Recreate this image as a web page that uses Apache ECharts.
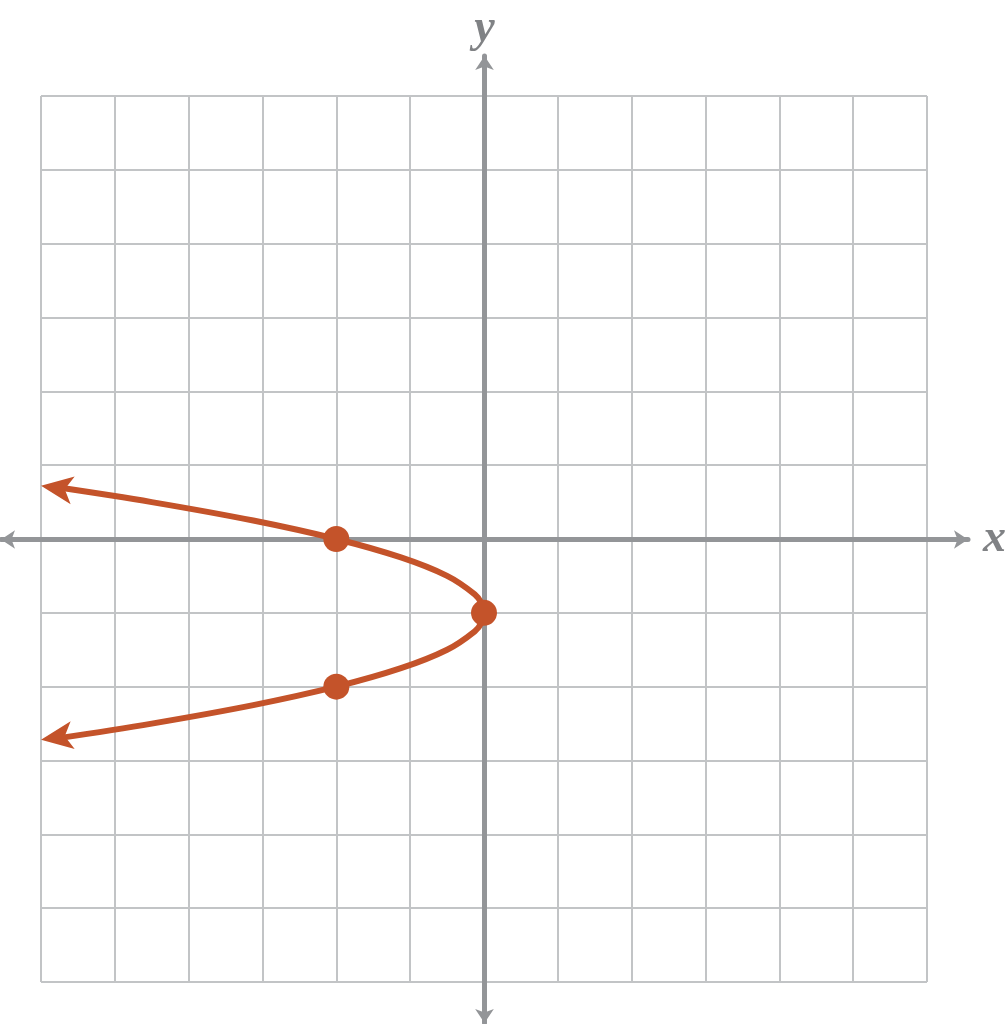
<!DOCTYPE html>
<html><head><meta charset="utf-8">
<script src="https://cdn.jsdelivr.net/npm/echarts@6/dist/echarts.min.js"></script>
<style>html,body{margin:0;padding:0;background:#fff}#c{width:1008px;height:1024px}</style>
</head><body><div id="c"></div>
<script>
// Values: parabola passing through (-2,0), (0,-1), (-2,-2)
const curveX = [-5.78, -4.5, -3.125, -2, -1.125, -0.5, -0.125, -0.03, 0, -0.03, -0.125, -0.5, -1.125, -2, -3.125, -4.5, -5.78];
const curveY = [0.7, 0.5, 0.25, 0, -0.25, -0.5, -0.75, -0.875, -1, -1.125, -1.25, -1.5, -1.75, -2, -2.25, -2.5, -2.7];
const pointX = [-2, 0, -2];
const pointY = [0, -1, -2];
const arrowX = [-6.0, -6.0];
const arrowY = [0.72, -2.72];
const arrowRot = [81.7, 98.3];
const axisMin = -6, axisMax = 6;

const ORANGE = '#c4532a', AXIS = '#939598', GRID = '#c2c4c6';
const chart = echarts.init(document.getElementById('c'), null, {renderer: 'canvas'});
const hidden = {axisLine: {show: false}, axisTick: {show: false}, axisLabel: {show: false}};
const nameStyle = {fontFamily: 'Liberation Serif', fontStyle: 'italic', fontWeight: 'bold', fontSize: 46, color: '#808285'};
chart.setOption({
  animation: false,
  grid: [
    {left: 41, right: 81, top: 96, bottom: 42, outerBoundsMode: 'none', containLabel: false},
    {left: 1, right: 40, top: 56, bottom: 1, outerBoundsMode: 'none', containLabel: false}
  ],
  xAxis: [
    Object.assign({type: 'value', gridIndex: 0, min: axisMin, max: axisMax, interval: 1,
      splitLine: {show: true, lineStyle: {color: GRID, width: 2}}}, hidden),
    {type: 'value', gridIndex: 1, min: -6.55, max: 6.55, splitLine: {show: false},
      axisTick: {show: false}, axisLabel: {show: false},
      axisLine: {show: true, onZero: true, symbol: ['arrow', 'arrow'], symbolSize: [14, 14], lineStyle: {color: AXIS, width: 5}},
      name: 'x', nameLocation: 'end', nameGap: 15, nameTextStyle: nameStyle}
  ],
  yAxis: [
    Object.assign({type: 'value', gridIndex: 0, min: axisMin, max: axisMax, interval: 1,
      splitLine: {show: true, lineStyle: {color: GRID, width: 2}}}, hidden),
    {type: 'value', gridIndex: 1, min: -6.55, max: 6.55, splitLine: {show: false},
      axisTick: {show: false}, axisLabel: {show: false},
      axisLine: {show: true, onZero: true, symbol: ['arrow', 'arrow'], symbolSize: [14, 14], lineStyle: {color: AXIS, width: 5}},
      name: 'y', nameLocation: 'end', nameGap: 4, nameTextStyle: nameStyle}
  ],
  series: [
    {type: 'line', xAxisIndex: 0, yAxisIndex: 0, smooth: 0.35, showSymbol: false, z: 5,
      lineStyle: {color: ORANGE, width: 6}, data: curveX.map((x, i) => [x, curveY[i]])},
    {type: 'scatter', xAxisIndex: 0, yAxisIndex: 0, z: 6, symbol: 'circle', symbolSize: 26,
      itemStyle: {color: ORANGE, opacity: 1}, data: pointX.map((x, i) => [x, pointY[i]])},
    {type: 'scatter', xAxisIndex: 0, yAxisIndex: 0, z: 6, symbol: 'arrow', symbolSize: [21, 32],
      itemStyle: {color: ORANGE, opacity: 1},
      data: arrowX.map((x, i) => ({value: [x, arrowY[i]], symbolRotate: arrowRot[i]}))}
  ]
});
</script></body></html>
